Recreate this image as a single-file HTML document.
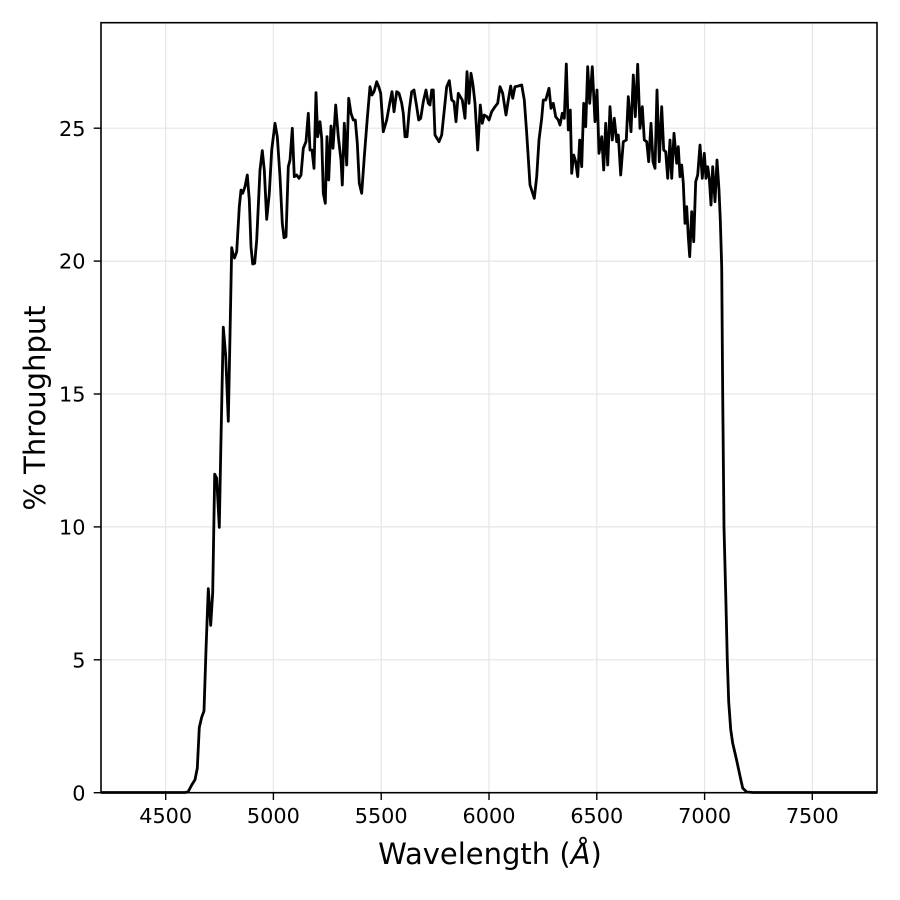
<!DOCTYPE html>
<html>
<head>
<meta charset="utf-8">
<style>
html,body{margin:0;padding:0;background:#fff;}
svg{display:block;}
text{font-family:"DejaVu Sans","Liberation Sans",sans-serif;fill:#000;}
</style>
</head>
<body>
<svg width="900" height="900" viewBox="0 0 900 900" xmlns="http://www.w3.org/2000/svg">
<rect width="900" height="900" fill="#fff"/>
<!-- grid -->
<g stroke="#e6e6e6" stroke-width="1.2">
<line x1="165.7" y1="22.7" x2="165.7" y2="792.7"/>
<line x1="273.4" y1="22.7" x2="273.4" y2="792.7"/>
<line x1="381.2" y1="22.7" x2="381.2" y2="792.7"/>
<line x1="489.0" y1="22.7" x2="489.0" y2="792.7"/>
<line x1="596.8" y1="22.7" x2="596.8" y2="792.7"/>
<line x1="704.6" y1="22.7" x2="704.6" y2="792.7"/>
<line x1="812.3" y1="22.7" x2="812.3" y2="792.7"/>
<line x1="101" y1="659.8" x2="877" y2="659.8"/>
<line x1="101" y1="526.9" x2="877" y2="526.9"/>
<line x1="101" y1="394.0" x2="877" y2="394.0"/>
<line x1="101" y1="261.1" x2="877" y2="261.1"/>
<line x1="101" y1="128.2" x2="877" y2="128.2"/>
</g>
<!-- curve -->
<polyline fill="none" stroke="#000" stroke-width="2.8" stroke-linejoin="round" stroke-linecap="butt" points="
101,792.5 185,792.5 188,792 191.7,785 195,779.7 197.3,768.2 199.3,727.4 201.7,717.2 204,711 206,649.8 208.3,588.6 210.7,625.3 212.7,592.6 214.7,474.2 216.7,478.3 219.3,527.3 220.7,453.8 223.3,327.2 225.7,355.8 228.3,421.2 230,335.4 231.7,247.6
233,254 234.5,258 236.7,251.7 239.3,206.7 241,190 242.7,193.3 245,186.7 247.3,175 249.3,200 251,246.7 252.7,264 254.7,263.3 256.7,240 260,170 262.3,150.7 264.3,170 266.7,219.3 269.3,193.3 271.7,150 275,123.3 277.3,136.7 280,176.7 282.3,223.3 284,237.7 286,236.7 288.3,166.7 290,160 292.3,128.3 294.3,176.7 296.7,175 299,178.3 301,175 303.3,148.3 306,141.7 308.3,113.3 310,150 312,150 314,168.3 316,92.7 317.7,136.7 320,121.7 321.7,138.3 323.3,193.3 325.3,203.3 327,136.7 328.7,180 331,126 333,148.3 335.7,105 338.3,136.7 341,160 342.3,185 344.3,123.3 346.7,165 348.7,98.3 351,113.3 353.3,120 355.3,120 357.3,143.3 359.3,183.3 361.7,193.3 364.3,156.7 367.3,118.3 370,86.7 372,95 374,91.7 376.7,81.7 378.7,86.7 380.7,93.3 383.3,131.7 386.7,120 390,101.7 392,91.7 394,111.7 396.7,91.7 399,93.3 401.7,103.3 403.3,113.3 405,136.7 407,136.7 409.3,110 411.7,91.7 414,90 416.7,106.7 418.7,120 420.7,118.3 423.3,101.7 426,90 428.3,103.3 430,105 431.7,90 433.3,90 435,135 439,141.7 441.7,135 444.3,110 446.7,86.7 449.3,80.7 451.7,100 454,101.7 456,121.7 458.3,93.3 460.3,96.7 462.3,100 465,118.3 467,71.7 469,103.3 471,73.3 473,85 475,103.3 477.7,150 480.3,105 482.3,123.3 484.3,115 487,116.7 489,120 491.7,111.7 495,106.7 497.7,103.3 500,86.7 502.7,93.3 506,115 508.3,100 510.7,86 512.7,98.3 515,86.7 518.3,86 521.7,85 524.3,100 526.7,133.3 530,185 534.3,198.3 536.7,176.7 539,140 541.7,118.3 543.3,100 545.7,100 549,88.3 551,108.3 553.3,103.3 555.7,116.7 558.3,120 560,125 562.3,113.3 564.3,118.3 566.3,64 568.3,130 570.3,110 571.7,173.3 573.7,155 575.7,161.7 577.7,176.7 579.7,140 581.7,166.7 583.7,103.3 585.7,126.7 587.7,66.7 589.7,103.3 592.3,66.7 595,121.7 597,90 599,153.3 601.7,136.7 603.7,170 605.7,123.3 607.7,165 610,106.7 612.3,140 614.3,118.3 616.7,141.7 618.3,135 620.7,175 623.3,141.7 626.3,140 628.3,96.7 631,131.7 633.3,75 635.3,116.7 637.7,64.3 640,128.3 642.3,106.7 644.3,140 646.7,141.7 648.7,161.7 651,123.3 653,161.7 655,168.3 657,90 659.3,161.7 661.7,106.7 663.7,150 665.7,151.7 667.7,178.3 670,140 671.7,178.3 674,133.3 676.7,163.3 678.3,146.7 680,176.7 681.7,165 683.3,183.3 685,223.3 686.7,206.7 688.3,236.7 689.7,256.7 691.7,211.7 693.7,241.7 695.7,181.7 697.7,175 700,145 702.3,178.3 704.3,153.3 706,178.3 707.7,166.7 709.3,178.3 711,205 712.7,166.7 715,201.7 717,160 719,190 720.3,220 721.7,266.7 722.7,394.6 724,527.5 726,605.2 727.3,660.4 728.7,701.8 730.7,729.4 732.7,743.2 736.7,760.5 740,776 742.7,788.1 746.7,792 753,792.5 877,792.5"/>
<!-- spines -->
<rect x="101" y="22.7" width="776" height="770" fill="none" stroke="#000" stroke-width="1.6"/>
<!-- ticks -->
<g stroke="#000" stroke-width="1.4">
<line x1="165.7" y1="792.7" x2="165.7" y2="800"/>
<line x1="273.4" y1="792.7" x2="273.4" y2="800"/>
<line x1="381.2" y1="792.7" x2="381.2" y2="800"/>
<line x1="489.0" y1="792.7" x2="489.0" y2="800"/>
<line x1="596.8" y1="792.7" x2="596.8" y2="800"/>
<line x1="704.6" y1="792.7" x2="704.6" y2="800"/>
<line x1="812.3" y1="792.7" x2="812.3" y2="800"/>
<line x1="93.7" y1="792.7" x2="101" y2="792.7"/>
<line x1="93.7" y1="659.8" x2="101" y2="659.8"/>
<line x1="93.7" y1="526.9" x2="101" y2="526.9"/>
<line x1="93.7" y1="394.0" x2="101" y2="394.0"/>
<line x1="93.7" y1="261.1" x2="101" y2="261.1"/>
<line x1="93.7" y1="128.2" x2="101" y2="128.2"/>
</g>
<g font-size="20.8" text-anchor="middle">
<text x="165.7" y="823">4500</text>
<text x="273.4" y="823">5000</text>
<text x="381.2" y="823">5500</text>
<text x="489.0" y="823">6000</text>
<text x="596.8" y="823">6500</text>
<text x="704.6" y="823">7000</text>
<text x="812.3" y="823">7500</text>
</g>
<g font-size="20.8" text-anchor="end">
<text x="85.5" y="800.3">0</text>
<text x="85.5" y="667.4">5</text>
<text x="85.5" y="534.5">10</text>
<text x="85.5" y="401.6">15</text>
<text x="85.5" y="268.7">20</text>
<text x="85.5" y="135.8">25</text>
</g>
<text x="490" y="864" font-size="29" text-anchor="middle">Wavelength (<tspan font-style="italic">Å</tspan>)</text>
<text transform="translate(45,408) rotate(-90)" font-size="29" text-anchor="middle">% Throughput</text>
</svg>
</body>
</html>
